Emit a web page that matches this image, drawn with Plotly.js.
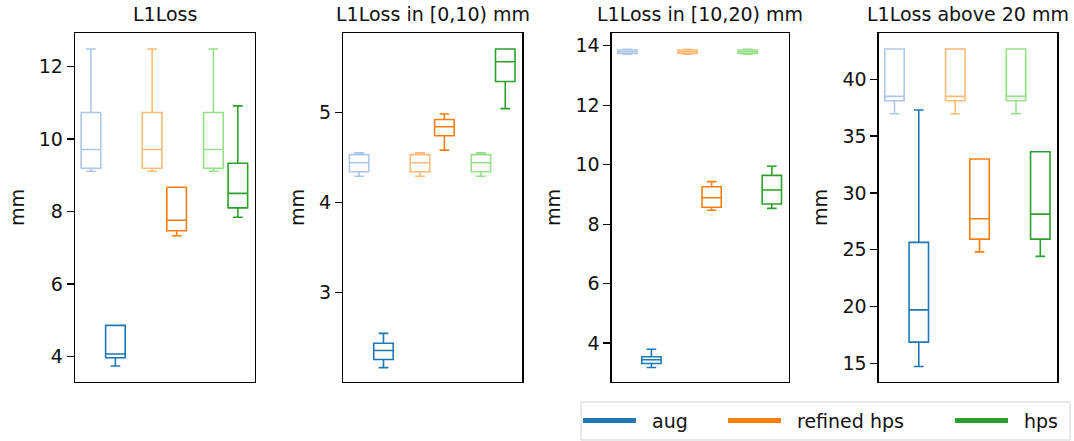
<!DOCTYPE html>
<html>
<head>
<meta charset="utf-8">
<script src="https://cdn.plot.ly/plotly-3.0.1.min.js"></script>
<style>
html,body{margin:0;padding:0;background:#fff;}
#chart{width:1074px;height:441px;}
</style>
</head>
<body>
<div id="chart"></div>
<script>
// ---- data ----
const panelTitles = ["L1Loss", "L1Loss in [0,10) mm", "L1Loss in [10,20) mm", "L1Loss above 20 mm"];
const boxNames = ["aug (reference)", "aug", "refined hps (reference)", "refined hps", "hps (reference)", "hps"];
const boxPositions = [-0.2, 0.2, 0.8, 1.2, 1.8, 2.2];
const legendNames = ["aug", "refined hps", "hps"];

// panel 1: L1Loss
const p1Lower  = [9.11, 3.74, 9.11, 7.33, 9.11, 7.84];
const p1Q1     = [9.19, 3.97, 9.19, 7.47, 9.19, 8.10];
const p1Median = [9.71, 4.07, 9.71, 7.76, 9.71, 8.50];
const p1Q3     = [10.73, 4.86, 10.73, 8.67, 10.73, 9.33];
const p1Upper  = [12.48, 4.86, 12.48, 8.67, 12.48, 10.91];

// panel 2: L1Loss in [0,10) mm
const p2Lower  = [4.29, 2.17, 4.29, 4.58, 4.29, 5.04];
const p2Q1     = [4.34, 2.26, 4.34, 4.74, 4.34, 5.34];
const p2Median = [4.44, 2.36, 4.44, 4.84, 4.44, 5.56];
const p2Q3     = [4.53, 2.44, 4.53, 4.92, 4.53, 5.70];
const p2Upper  = [4.55, 2.55, 4.55, 4.98, 4.55, 5.70];

// panel 3: L1Loss in [10,20) mm
const p3Lower  = [13.72, 3.18, 13.72, 8.47, 13.72, 8.53];
const p3Q1     = [13.74, 3.31, 13.74, 8.57, 13.74, 8.68];
const p3Median = [13.80, 3.44, 13.80, 8.89, 13.80, 9.15];
const p3Q3     = [13.86, 3.54, 13.86, 9.26, 13.86, 9.64];
const p3Upper  = [13.88, 3.79, 13.88, 9.43, 13.88, 9.95];

// panel 4: L1Loss above 20 mm
const p4Lower  = [36.97, 14.71, 36.97, 24.81, 36.97, 24.41];
const p4Q1     = [38.11, 16.86, 38.11, 25.93, 38.11, 25.93];
const p4Median = [38.50, 19.70, 38.50, 27.72, 38.50, 28.13];
const p4Q3     = [42.67, 25.64, 42.67, 32.98, 42.67, 33.62];
const p4Upper  = [42.67, 37.30, 42.67, 32.98, 42.67, 33.62];

const yRanges = [[3.30, 12.92], [2.011, 5.878], [2.69, 14.43], [13.35, 44.08]];
const yDticks = [2, 1, 2, 5];

// ---- styles ----
const boxColors = ['#aec7e8', '#1f77b4', '#ffbb78', '#ff7f0e', '#98df8a', '#2ca02c'];
const legendColors = ['#1f77b4', '#ff7f0e', '#2ca02c'];
const W = 1074, H = 441;
const xDomainsPx = [[75, 255], [343.3, 522.3], [611.7, 788.7], [878.7, 1057.3]];
const yDomainPx = [33, 382];
const FONT = 'DejaVu Sans, sans-serif';
const FS = 19;
// legend geometry (pixels)
const legBox = {x0: 581, x1: 1070, y0: 402, y1: 440};
const legLineX = [583, 728, 955];
const legLineLen = 53;
const legTextX = [650, 795, 1022];
const legY = 420.5;

const panels = [
  {lower: p1Lower, q1: p1Q1, median: p1Median, q3: p1Q3, upper: p1Upper},
  {lower: p2Lower, q1: p2Q1, median: p2Median, q3: p2Q3, upper: p2Upper},
  {lower: p3Lower, q1: p3Q1, median: p3Median, q3: p3Q3, upper: p3Upper},
  {lower: p4Lower, q1: p4Q1, median: p4Median, q3: p4Q3, upper: p4Upper}
];

const traces = [];
panels.forEach((p, pi) => {
  const ax = pi === 0 ? '' : String(pi + 1);
  for (let i = 0; i < boxPositions.length; i++) {
    traces.push({
      type: 'box',
      name: boxNames[i],
      x: [boxPositions[i]],
      q1: [p.q1[i]],
      median: [p.median[i]],
      q3: [p.q3[i]],
      lowerfence: [p.lower[i]],
      upperfence: [p.upper[i]],
      width: 0.32,
      whiskerwidth: 0.5,
      boxpoints: false,
      line: {color: boxColors[i], width: 1.6},
      fillcolor: 'rgba(0,0,0,0)',
      showlegend: false,
      hoverinfo: 'skip',
      xaxis: 'x' + ax,
      yaxis: 'y' + ax
    });
  }
});

const px = v => v / W;
const py = v => 1 - v / H;

const layout = {
  width: W, height: H,
  margin: {l: 0, r: 0, t: 0, b: 0},
  paper_bgcolor: '#fff', plot_bgcolor: '#fff',
  font: {family: FONT, size: FS, color: '#111'},
  showlegend: false,
  annotations: [],
  shapes: [{
    type: 'rect', xref: 'paper', yref: 'paper', layer: 'below',
    x0: px(legBox.x0), x1: px(legBox.x1), y0: py(legBox.y1), y1: py(legBox.y0),
    line: {color: '#d3d3d3', width: 1}, fillcolor: '#fff'
  }]
};

legendNames.forEach((n, i) => {
  layout.shapes.push({
    type: 'line', xref: 'paper', yref: 'paper',
    x0: px(legLineX[i]), x1: px(legLineX[i] + legLineLen), y0: py(legY), y1: py(legY),
    line: {color: legendColors[i], width: 5}
  });
  layout.annotations.push({
    text: n, xref: 'paper', yref: 'paper', x: px(legTextX[i]), y: py(legY),
    xanchor: 'left', yanchor: 'middle', showarrow: false,
    font: {family: FONT, size: FS, color: '#111'}
  });
});

xDomainsPx.forEach((d, pi) => {
  const ax = pi === 0 ? '' : String(pi + 1);
  layout['xaxis' + ax] = {
    domain: [d[0] / W, d[1] / W], range: [-0.46, 2.48],
    showticklabels: false, ticks: '', showgrid: false, zeroline: false,
    showline: true, mirror: true, linecolor: '#000', linewidth: 1.3,
    anchor: 'y' + ax, fixedrange: true
  };
  layout['yaxis' + ax] = {
    domain: [1 - yDomainPx[1] / H, 1 - yDomainPx[0] / H],
    range: yRanges[pi], dtick: yDticks[pi], tick0: 0,
    ticks: 'outside', ticklen: 7, tickwidth: 1.3, tickcolor: '#000',
    tickfont: {family: FONT, size: FS, color: '#111'},
    showgrid: false, zeroline: false,
    showline: true, mirror: true, linecolor: '#000', linewidth: 1.3,
    anchor: 'x' + ax, fixedrange: true,
    title: {text: 'mm', font: {family: FONT, size: FS, color: '#111'}, standoff: 9}
  };
  layout.annotations.push({
    text: panelTitles[pi], xref: 'paper', yref: 'paper',
    x: (d[0] + d[1]) / 2 / W, y: 1 - 14 / H, xanchor: 'center', yanchor: 'middle',
    showarrow: false, font: {family: FONT, size: FS, color: '#111'}
  });
});

Plotly.newPlot('chart', traces, layout, {displayModeBar: false, staticPlot: true});
</script>
</body>
</html>
